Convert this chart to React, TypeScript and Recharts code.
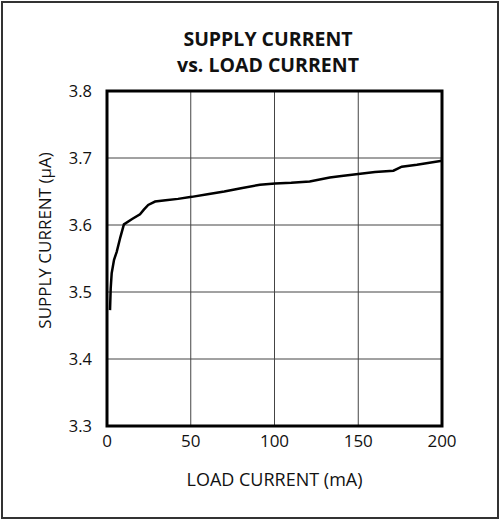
import { LineChart, Line, XAxis, YAxis, CartesianGrid, ReferenceArea } from 'recharts'

// load current (mA) and supply current (µA)
const loadCurrent = [1.8, 2.2, 2.8, 4.2, 5.8, 8.0, 10.1, 15, 19.7, 22, 24.6, 28.7, 35, 42.4, 50.6, 60, 70, 80, 91.3, 100.3, 110, 121, 133, 140, 150, 160, 171, 176, 185, 200]
const supplyCurrent = [3.473, 3.505, 3.528, 3.548, 3.560, 3.582, 3.601, 3.609, 3.616, 3.623, 3.630, 3.635, 3.637, 3.639, 3.642, 3.646, 3.650, 3.655, 3.660, 3.662, 3.663, 3.665, 3.671, 3.673, 3.676, 3.679, 3.681, 3.687, 3.690, 3.696]

const xTicks = [0, 50, 100, 150, 200]
const yTicks = [3.3, 3.4, 3.5, 3.6, 3.7, 3.8]

const data = loadCurrent.map((x, i) => ({ x, y: supplyCurrent[i] }))

const font = '"Open Sans", sans-serif'

export default function App() {
  return (
    <div
      style={{
        position: 'absolute', left: 0, top: 0, width: 500, height: 519,
        background: '#fff', fontFamily: font,
      }}
    >
      <div
        style={{
          position: 'absolute', left: 1, top: 1, width: 494, height: 514,
          border: '2px solid #333',
        }}
      />
      <div
        style={{
          position: 'absolute', left: 158, top: 26, width: 220, textAlign: 'center',
          fontWeight: 700, fontSize: 19.5, lineHeight: '26px', color: '#111',
        }}
      >
        SUPPLY CURRENT<br />vs. LOAD CURRENT
      </div>
      <div style={{ position: 'absolute', left: 0, top: 0 }}>
        <LineChart width={500} height={519} data={data} margin={{ top: 91, right: 58, bottom: 0, left: 0 }}>
          <CartesianGrid stroke="#444" strokeWidth={1} />
          <XAxis
            dataKey="x"
            type="number"
            domain={[0, 200]}
            ticks={xTicks}
            height={93}
            tickSize={0}
            tickMargin={9}
            axisLine={false}
            tick={{ fontSize: 17, fill: '#111', fontFamily: font }}
            label={{ value: 'LOAD CURRENT (mA)', position: 'insideBottom', offset: 33, fontSize: 18, fill: '#111', fontFamily: font }}
          />
          <YAxis
            type="number"
            domain={[3.3, 3.8]}
            ticks={yTicks}
            width={107}
            tickSize={0}
            tickMargin={15}
            axisLine={false}
            tickFormatter={(v) => v.toFixed(1)}
            tick={{ fontSize: 16.5, fill: '#111', fontFamily: font }}
            label={{ value: 'SUPPLY CURRENT (μA)', angle: -90, position: 'center', dx: -9, dy: -18, fontSize: 17, fill: '#111', fontFamily: font }}
          />
          <ReferenceArea x1={0} x2={200} y1={3.3} y2={3.8} fill="none" stroke="#000" strokeWidth={3} ifOverflow="visible" />
          <Line
            type="linear"
            dataKey="y"
            stroke="#000"
            strokeWidth={2.5}
            dot={false}
            isAnimationActive={false}
          />
        </LineChart>
      </div>
    </div>
  )
}
